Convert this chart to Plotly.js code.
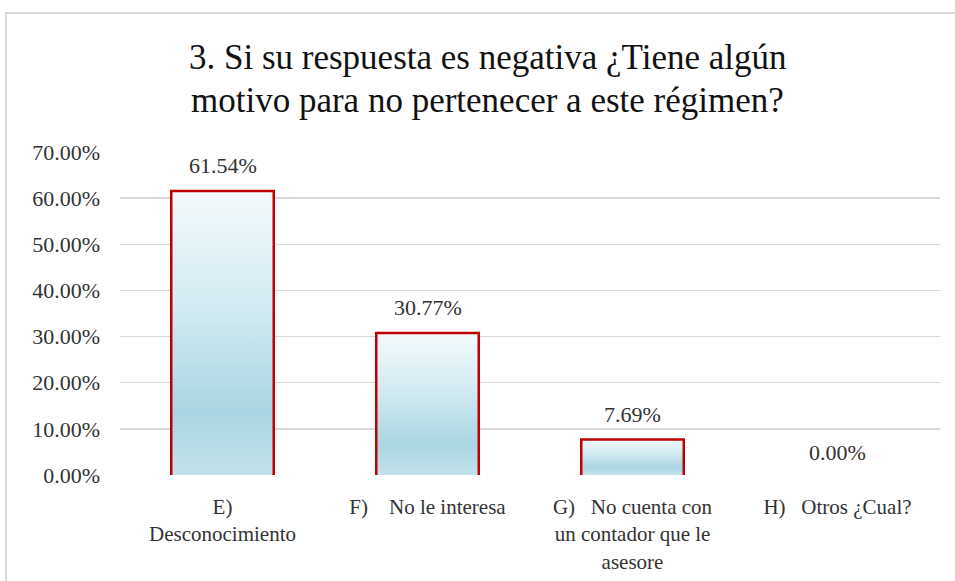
<!DOCTYPE html>
<html>
<head>
<meta charset="utf-8">
<script src="https://cdn.plot.ly/plotly-3.0.1.min.js"></script>
<style>
  html, body { margin: 0; padding: 0; background: #ffffff; overflow: hidden; }
  #frame { position: absolute; left: 5px; top: 12px; width: 1000px; height: 700px;
           border: 2px solid #d9d9d9; box-sizing: border-box; }
  #chart { position: absolute; left: 0; top: 0; width: 955px; height: 581px; }
</style>
</head>
<body>
<div id="frame"></div>
<div id="chart"></div>
<script>
// ---- data ----
const categories = [
  "E)<br>Desconocimiento",
  "F)\u00a0\u00a0\u00a0\u00a0No le interesa",
  "G)\u00a0\u00a0\u00a0No cuenta con<br>un contador que le<br>asesore",
  "H)\u00a0\u00a0\u00a0Otros \u00bfCual?"
];
const values = [0.6154, 0.3077, 0.0769, 0.0];
const titleLines = [
  "3. Si su respuesta es negativa \u00bfTiene alg\u00fan",
  "motivo para no pertenecer a este r\u00e9gimen?"
];

// ---- styling ----
const FONT = '"Liberation Serif", "Times New Roman", serif';
const halfWidth = 0.25;
const gradient = [[0, '#c3e2eb'], [0.22, '#aad6e3'], [0.6, '#d2ebf2'], [1, '#f4fafc']];

const positions = categories.map((c, i) => i);
const traces = values.map((v, i) => {
  const x0 = positions[i] - halfWidth, x1 = positions[i] + halfWidth;
  return {
    type: 'scatter', mode: 'lines',
    x: [x0, x0, x1, x1], y: [0, v, v, 0],
    fill: 'toself',
    fillgradient: { type: 'vertical', colorscale: gradient },
    line: { color: '#c00000', width: v > 0 ? 2.5 : 0 },
    hoverinfo: 'skip', showlegend: false
  };
});

const annotations = values.map((v, i) => ({
  x: positions[i], y: v, xref: 'x', yref: 'y',
  text: (v * 100).toFixed(2) + '%',
  showarrow: false, yanchor: 'bottom', yshift: v > 0 ? 11 : 8,
  font: { family: FONT, size: 22, color: '#333333' }
}));

// chart title, one annotation per line
const titleY = [1.294, 1.158];
titleLines.forEach((t, i) => annotations.push({
  text: t, xref: 'paper', yref: 'paper',
  x: 0.4476, y: titleY[i], xanchor: 'center', yanchor: 'middle',
  showarrow: false,
  font: { family: FONT, size: 35, color: '#111111' }
}));

const layout = {
  width: 955, height: 581,
  font: { family: FONT, color: '#333333' },
  paper_bgcolor: 'rgba(0,0,0,0)', plot_bgcolor: 'rgba(0,0,0,0)',
  margin: { l: 120, r: 15, t: 152, b: 106 },
  xaxis: {
    range: [-0.5, 3.5], tickvals: positions, ticktext: categories,
    showgrid: false, zeroline: false, showline: false,
    ticks: '', ticklabelstandoff: 17,
    tickfont: { family: FONT, size: 21, color: '#333333' }
  },
  yaxis: {
    range: [0, 0.7], dtick: 0.1, tickformat: '.2%',
    showgrid: true, gridcolor: '#d9d9d9', gridwidth: 1.5,
    zeroline: false, showline: false, ticks: '', ticklabelstandoff: 19,
    tickfont: { family: FONT, size: 22, color: '#333333' }
  },
  annotations: annotations,
  showlegend: false
};

Plotly.newPlot('chart', traces, layout, { displayModeBar: false, staticPlot: true });
</script>
</body>
</html>
